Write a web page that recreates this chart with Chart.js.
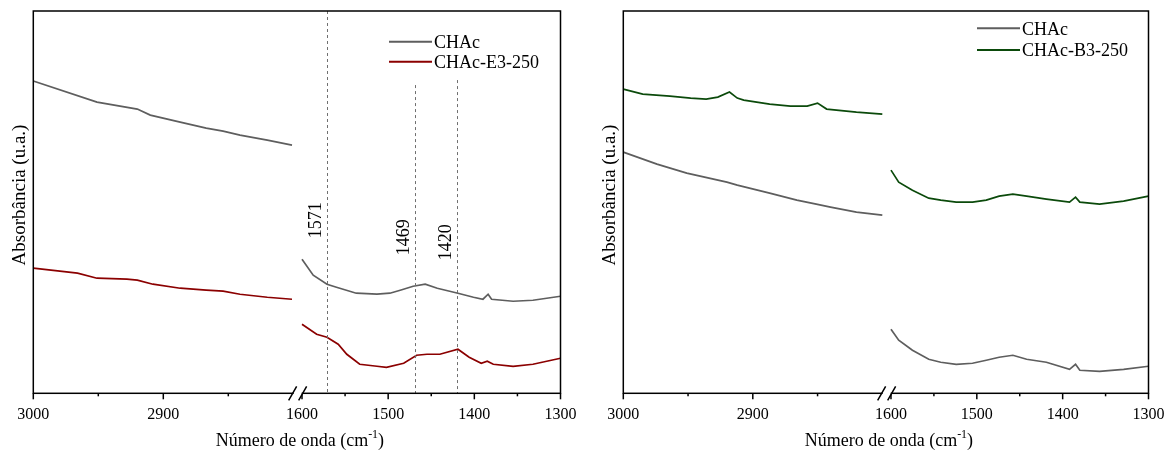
<!DOCTYPE html>
<html lang="pt-BR">
<head>
<meta charset="UTF-8">
<title>FTIR - CHAc</title>
<script src="https://cdn.jsdelivr.net/npm/chart.js"></script>
<style>
  html, body { margin: 0; background: #fff; overflow: hidden; }
  #painelA { position: absolute; left: 0; top: 0; }
  #painelB { position: absolute; left: 590px; top: 0; }
</style>
</head>
<body>
<canvas id="painelA" width="590" height="454"></canvas>
<canvas id="painelB" width="590" height="454"></canvas>

<script>
// eixo x quebrado: 3000-2800 e 1600-1300 cm-1
const faixaEsq = [3000, 2800];
const faixaDir = [1600, 1300];
const marcasX = [3000, 2950, 2900, 2850, 1600, 1550, 1500, 1450, 1400, 1350, 1300];

// painel esquerdo: CHAc x CHAc-E3-250
const chacA_num = [3000, 2951, 2920, 2910, 2887, 2867, 2854, 2841, 2820, 2801,
  1600, 1587, 1571, 1560, 1537, 1513, 1498, 1486, 1471, 1457, 1443, 1419, 1401, 1390, 1384, 1380, 1355, 1332, 1300];
const chacA_abs = [3.12, 2.91, 2.84, 2.78, 2.71, 2.65, 2.62, 2.58, 2.53, 2.48,
  1.34, 1.18, 1.09, 1.06, 1.00, 0.99, 1.00, 1.03, 1.07, 1.09, 1.05, 1.00, 0.96, 0.94, 0.99, 0.94, 0.92, 0.93, 0.97];

const e3_num = [3000, 2966, 2951, 2928, 2920, 2908, 2887, 2867, 2854, 2841, 2820, 2801,
  1600, 1583, 1571, 1558, 1548, 1533, 1513, 1502, 1482, 1467, 1455, 1440, 1419, 1406, 1392, 1385, 1378, 1355, 1332, 1300];
const e3_abs = [1.25, 1.20, 1.15, 1.14, 1.13, 1.09, 1.05, 1.03, 1.02, 0.99, 0.96, 0.94,
  0.69, 0.59, 0.56, 0.49, 0.39, 0.29, 0.27, 0.26, 0.30, 0.38, 0.39, 0.39, 0.44, 0.36, 0.30, 0.32, 0.29, 0.27, 0.29, 0.35];

// painel direito: CHAc x CHAc-B3-250
const chacB_num = [3000, 2974, 2951, 2920, 2912, 2887, 2866, 2851, 2840, 2820, 2800,
  1600, 1591, 1575, 1556, 1542, 1524, 1505, 1489, 1474, 1458, 1442, 1419, 1392, 1385, 1380, 1357, 1329, 1300];
const chacB_abs = [2.41, 2.29, 2.20, 2.11, 2.08, 2.00, 1.93, 1.89, 1.86, 1.81, 1.78,
  0.64, 0.53, 0.43, 0.34, 0.31, 0.29, 0.30, 0.33, 0.36, 0.38, 0.34, 0.31, 0.24, 0.29, 0.23, 0.22, 0.24, 0.27];

const b3_num = [3000, 2985, 2964, 2948, 2936, 2927, 2918, 2912, 2907, 2887, 2871, 2858, 2850, 2843, 2820, 2800,
  1600, 1591, 1575, 1556, 1542, 1524, 1505, 1489, 1474, 1458, 1442, 1419, 1392, 1385, 1380, 1357, 1329, 1300];
const b3_abs = [3.04, 2.99, 2.97, 2.95, 2.94, 2.96, 3.01, 2.95, 2.93, 2.89, 2.87, 2.87, 2.90, 2.84, 2.81, 2.79,
  2.23, 2.11, 2.03, 1.95, 1.93, 1.91, 1.91, 1.93, 1.97, 1.99, 1.97, 1.94, 1.91, 1.96, 1.91, 1.89, 1.92, 1.97];

// bandas marcadas no painel esquerdo
const picos = [1571, 1469, 1420];
const picosTopo = [3.82, 3.08, 3.13];
const picosRotulo = [1.73, 1.56, 1.51];

const fonte = 'Liberation Serif, Times New Roman, serif';

// escala linear com quebra entre 2800 e 1600
const FRAC_ESQ = 260 / 527.2;
const FRAC_DIR = 268.7 / 527.2;
class EixoQuebrado extends Chart.LinearScale {
  buildTicks() {
    return marcasX.map(v => ({ value: v }));
  }
  getPixelForValue(v) {
    let f;
    if (v > (faixaEsq[1] + faixaDir[0]) / 2) {
      f = (faixaEsq[0] - v) / (faixaEsq[0] - faixaEsq[1]) * FRAC_ESQ;
    } else {
      f = FRAC_DIR + (faixaDir[0] - v) / (faixaDir[0] - faixaDir[1]) * (1 - FRAC_DIR);
    }
    return this.left + f * this.width;
  }
}
EixoQuebrado.id = 'quebrado';
EixoQuebrado.defaults = Chart.LinearScale.defaults;
Chart.register(EixoQuebrado);

function pontos(num, abs) {
  const out = [];
  for (let i = 0; i < num.length; i++) {
    if (i > 0 && num[i - 1] >= faixaEsq[1] && num[i] <= faixaDir[0]) {
      out.push({ x: 2200, y: null });
    }
    out.push({ x: num[i], y: abs[i] });
  }
  return out;
}

const moldura = {
  id: 'moldura',
  afterDraw(chart, args, o) {
    const { ctx, chartArea: a } = chart;
    const x = chart.scales.x, y = chart.scales.y;
    ctx.save();

    // linhas tracejadas das bandas
    if (o.picos) {
      ctx.strokeStyle = '#707070';
      ctx.lineWidth = 1;
      ctx.setLineDash([3, 3]);
      picos.forEach((p, i) => {
        const px = Math.round(x.getPixelForValue(p)) + 0.5;
        ctx.beginPath();
        ctx.moveTo(px, Math.max(a.top, y.getPixelForValue(picosTopo[i])));
        ctx.lineTo(px, a.bottom);
        ctx.stroke();
      });
      ctx.setLineDash([]);
      ctx.fillStyle = '#000';
      ctx.font = '18px ' + fonte;
      ctx.textAlign = 'center';
      ctx.textBaseline = 'middle';
      picos.forEach((p, i) => {
        ctx.save();
        ctx.translate(x.getPixelForValue(p) - 11, y.getPixelForValue(picosRotulo[i]));
        ctx.rotate(-Math.PI / 2);
        ctx.fillText(String(p), 0, 0);
        ctx.restore();
      });
    }

    // moldura
    ctx.strokeStyle = '#000';
    ctx.lineWidth = 1.5;
    ctx.strokeRect(a.left, a.top, a.right - a.left, a.bottom - a.top);

    // marcas do eixo x
    marcasX.forEach(v => {
      const px = x.getPixelForValue(v);
      const len = v % 100 === 0 ? 6 : 3;
      ctx.beginPath();
      ctx.moveTo(px, a.bottom);
      ctx.lineTo(px, a.bottom + len);
      ctx.stroke();
    });

    // quebra //
    const cx = (x.getPixelForValue(faixaEsq[1]) + x.getPixelForValue(faixaDir[0])) / 2;
    ctx.fillStyle = '#fff';
    ctx.fillRect(cx - 4, a.bottom - 2, 8, 4);
    ctx.beginPath();
    ctx.moveTo(cx - 9, a.bottom + 7); ctx.lineTo(cx - 1, a.bottom - 7);
    ctx.moveTo(cx + 1, a.bottom + 7); ctx.lineTo(cx + 9, a.bottom - 7);
    ctx.stroke();

    // legenda
    ctx.font = '18px ' + fonte;
    ctx.textAlign = 'left';
    ctx.textBaseline = 'middle';
    chart.data.datasets.forEach((ds, i) => {
      const ly = o.legY[i];
      ctx.strokeStyle = ds.borderColor;
      ctx.lineWidth = 2;
      ctx.beginPath();
      ctx.moveTo(a.right - 171.5, ly);
      ctx.lineTo(a.right - 128.5, ly);
      ctx.stroke();
      ctx.fillStyle = '#000';
      ctx.fillText(ds.label, a.right - 126.5, ly + 1.5);
    });

    // título do eixo y
    ctx.save();
    ctx.translate(20, 195);
    ctx.rotate(-Math.PI / 2);
    ctx.textAlign = 'center';
    ctx.font = '19px ' + fonte;
    ctx.fillText('Absorbância (u.a.)', 0, 0);
    ctx.restore();

    // título do eixo x com sobrescrito
    const t1 = 'Número de onda (cm', sup = '-1', t2 = ')';
    ctx.textBaseline = 'alphabetic';
    ctx.font = '18px ' + fonte;
    const w1 = ctx.measureText(t1).width, w3 = ctx.measureText(t2).width;
    ctx.font = '12px ' + fonte;
    const w2 = ctx.measureText(sup).width;
    let sx = (a.left + a.right) / 2 + 3 - (w1 + w2 + w3) / 2;
    const base = 446;
    ctx.font = '18px ' + fonte;
    ctx.fillText(t1, sx, base); sx += w1;
    ctx.font = '12px ' + fonte;
    ctx.fillText(sup, sx, base - 8); sx += w2;
    ctx.font = '18px ' + fonte;
    ctx.fillText(t2, sx, base);

    ctx.restore();
  }
};

function painel(id, series, extras) {
  return new Chart(document.getElementById(id), {
    type: 'line',
    data: {
      datasets: series.map(s => ({
        label: s.nome,
        data: pontos(s.num, s.abs),
        borderColor: s.cor,
        borderWidth: 1.7,
        pointRadius: 0,
        tension: 0,
        spanGaps: false
      }))
    },
    options: {
      responsive: false,
      animation: false,
      layout: { padding: { left: 33.3, right: extras.dir, top: 11, bottom: 18.5 } },
      plugins: { legend: { display: false }, tooltip: { enabled: false }, moldura: extras },
      scales: {
        x: {
          type: 'quebrado',
          min: 1300,
          max: 3000,
          grid: { display: false, drawTicks: false, tickLength: 0 },
          border: { display: false },
          ticks: {
            autoSkip: false,
            maxRotation: 0,
            padding: 11.5,
            color: '#000',
            font: { family: fonte, size: 16 },
            callback: v => (v % 100 === 0 ? String(v) : '')
          }
        },
        y: { display: false, min: 0, max: 3.82 }
      }
    },
    plugins: [moldura]
  });
}

painel('painelA', [
  { nome: 'CHAc', num: chacA_num, abs: chacA_abs, cor: '#5e5e5e' },
  { nome: 'CHAc-E3-250', num: e3_num, abs: e3_abs, cor: '#8b0000' }
], { dir: 29.5, legY: [41.7, 61.7], picos: true });

painel('painelB', [
  { nome: 'CHAc', num: chacB_num, abs: chacB_abs, cor: '#5e5e5e' },
  { nome: 'CHAc-B3-250', num: b3_num, abs: b3_abs, cor: '#0b4a0b' }
], { dir: 31.5, legY: [28.3, 50], picos: false });
</script>
</body>
</html>
